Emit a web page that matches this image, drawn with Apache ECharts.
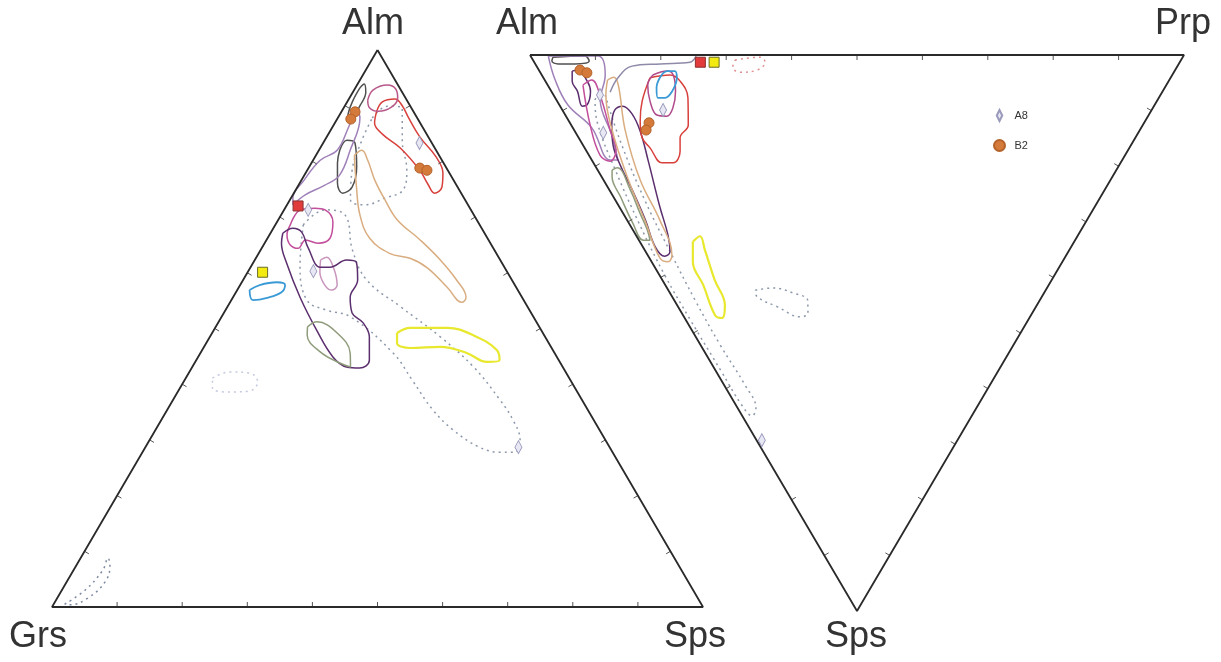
<!DOCTYPE html>
<html><head><meta charset="utf-8">
<script src="https://cdn.jsdelivr.net/npm/echarts@6/dist/echarts.min.js"></script>
<style>html,body{margin:0;padding:0;background:#fff}#c{width:1221px;height:662px}</style>
</head><body><div id="c"></div>
<script>
// ===== Left diagram (Alm–Grs–Sps): points as [Alm %, Sps %]; Grs = 100 - Alm - Sps =====
const L_vertices = { Alm: [100, 0], Grs: [0, 0], Sps: [0, 100] };
const L_red = [[88.9,5.4],[90.7,5.4],[91.2,7.1],[89.9,8.9],[88.0,10.7],[84.4,14.3],[80.8,18.6],[77.9,21.1],[75.4,22.2],[74.3,21.6],[75.9,19.8],[78.4,17.3],[82.4,12.3],[84.9,8.3],[86.9,6.1]];
const L_mauve = [[91.0,3.0],[92.8,2.9],[93.7,4.7],[93.0,6.3],[91.4,7.4],[89.8,7.3],[89.0,5.6],[89.6,4.0]];
const L_greyTop = [[93.2,0.7],[93.9,1.0],[92.4,2.0],[90.1,2.3],[88.0,2.1],[88.1,1.4],[90.6,0.8]];
const L_greyMid = [[82.0,3.2],[83.8,3.4],[83.3,4.9],[79.0,7.3],[75.4,8.4],[74.3,7.5],[76.1,5.8],[79.7,4.0]];
const L_lavender = [[89.6,1.9],[87.8,3.4],[82.0,4.8],[77.5,5.4],[75.7,4.0],[74.0,1.9],[72.2,0.9],[73.4,0.3],[76.6,0.4],[80.2,1.1],[82.0,2.8],[86.0,2.5]];
const L_magenta = [[68.6,2.3],[71.3,2.5],[71.6,4.6],[71.3,6.3],[69.1,8.6],[66.2,9.6],[65.3,8.2],[65.9,6.0],[64.4,5.6],[65.0,4.1],[66.8,2.7]];
const L_pink = [[62.3,10.1],[62.8,10.8],[60.9,12.8],[57.8,14.9],[56.9,14.5],[57.8,13.0],[60.1,11.1]];
const L_purple = [[67.1,1.9],[68.0,3.0],[67.3,4.7],[64.6,7.0],[61.0,10.7],[61.0,12.2],[62.3,14.1],[61.9,15.8],[58.7,17.6],[55.6,18.0],[52.8,19.7],[51.0,22.3],[48.5,24.5],[44.3,26.6],[42.9,25.8],[43.1,23.7],[44.9,20.7],[49.7,15.8],[55.6,10.3],[61.7,5.2],[65.3,2.6]];
const L_green = [[50.3,14.1],[51.2,15.1],[49.2,19.2],[45.6,23.0],[43.1,24.3],[43.8,22.3],[45.8,18.3],[48.8,14.8]];
const L_blue = [[56.9,1.9],[57.8,3.0],[58.3,5.4],[57.8,6.9],[56.5,7.0],[55.5,5.3],[55.1,3.3]];
const L_tan = [[81.1,5.9],[82.0,6.6],[80.2,8.4],[76.6,11.3],[73.1,14.6],[69.5,18.3],[65.9,23.6],[62.3,28.5],[58.7,32.8],[55.6,35.8],[54.7,35.6],[57.4,32.0],[60.9,27.2],[62.6,23.7],[63.5,20.1],[66.2,15.7],[70.4,12.1],[75.7,8.9]];
const L_yellow = [[49.2,28.4],[50.1,30.0],[50.1,35.7],[48.8,40.3],[46.1,45.3],[44.3,46.6],[44.0,44.8],[45.6,40.9],[46.7,36.3],[46.5,31.8],[47.4,29.3]];
const L_dotTop = [[87.8,5.3],[89.9,6.6],[89.6,9.0],[83.8,11.9],[78.4,15.3],[74.9,16.5],[73.4,14.4],[72.2,12.0],[73.1,9.3],[78.4,6.9],[83.8,5.7]];
const L_dotLong = [[68.6,4.3],[71.3,6.3],[70.4,9.8],[64.1,14.1],[58.7,19.0],[53.9,26.6],[48.5,35.4],[43.1,43.2],[37.2,50.2],[33.6,54.0],[30.0,56.9],[27.8,57.2],[27.8,54.9],[28.7,51.3],[31.8,45.7],[35.4,40.8],[40.7,35.0],[45.6,29.6],[52.1,19.8],[53.3,15.5],[55.1,11.6],[61.4,7.4]];
const L_dotPale = [[41.1,4.1],[42.2,6.2],[42.0,9.4],[40.4,11.4],[38.8,11.0],[38.6,8.0],[39.3,5.0]];
const L_dotCorner = [[0.5,1.7],[3.1,3.6],[6.6,4.5],[8.8,4.2],[7.4,5.2],[4.5,5.9],[1.6,4.7],[0.4,2.6]];
const L_A8 = [[83.3,14.8],[71.3,3.7],[60.3,10.0],[28.7,57.3]];
const L_B2 = [[88.9,2.1],[87.6,2.1],[78.8,17.1],[78.4,18.4]];
const L_redSquare = [[72.0,1.8]];
const L_yellowSquare = [[60.1,2.3]];

// ===== Right diagram (Alm–Prp–Sps): points as [Prp %, Sps %]; Alm = 100 - Prp - Sps =====
const R_vertices = { Alm: [0, 0], Prp: [100, 0], Sps: [0, 100] };
const R_greyBox = [[3.3,0.4],[8.3,0.2],[8.5,1.1],[6.1,1.6],[3.5,1.6],[2.8,1.1]];
const R_lavender = [[2.7,0.2],[10.3,0.2],[9.7,3.6],[6.7,8.1],[5.3,14.4],[4.0,18.9],[2.8,18.9],[2.9,13.1],[1.3,9.0],[1.6,4.5]];
const R_purpleSmall = [[5.0,2.9],[6.0,2.7],[6.4,4.7],[6.0,6.5],[4.2,9.0],[3.4,9.2],[4.0,6.5],[4.1,4.7]];
const R_purple = [[6.2,12.6],[8.0,9.9],[9.6,9.2],[10.3,10.6],[10.0,13.7],[8.6,18.9],[6.2,27.3],[4.9,32.4],[3.7,35.4],[2.5,36.2],[1.9,34.5],[2.8,29.7],[3.5,24.3],[3.9,19.8],[4.6,16.2]];
const R_magenta = [[5.4,5.4],[7.2,4.5],[7.1,7.2],[5.5,13.5],[4.6,17.1],[2.7,19.1],[1.7,18.0],[2.9,12.6]];
const R_green = [[2.2,20.7],[3.2,20.3],[3.2,24.3],[2.6,28.4],[2.2,31.5],[1.7,33.3],[0.7,33.3],[0.6,30.2],[1.1,25.5],[1.6,21.9]];
const R_tan = [[9.6,4.5],[10.8,4.0],[10.8,5.4],[7.8,13.5],[5.6,22.5],[5.0,29.7],[3.7,36.0],[2.5,37.2],[1.6,36.5],[2.7,29.7],[3.8,22.5],[5.8,13.5],[8.0,7.2]];
const R_red = [[16.3,4.1],[19.6,3.6],[20.6,4.7],[20.3,7.7],[17.9,12.6],[15.5,14.9],[14.3,17.3],[12.2,19.4],[10.5,19.4],[10.0,16.7],[9.7,14.9],[10.9,11.9],[13.0,8.3]];
const R_magenta2 = [[17.0,3.6],[19.5,2.9],[20.1,3.6],[19.0,6.5],[17.1,9.5],[15.4,11.0],[14.0,10.8],[14.2,8.3],[15.3,5.4]];
const R_blue = [[17.8,4.1],[19.5,2.9],[20.7,2.9],[20.4,4.1],[18.5,6.5],[16.8,7.7],[15.7,7.7],[16.4,5.9]];
const R_greyLine = [[25.3,0.2],[23.8,1.3],[19.1,1.6],[14.6,2.0],[11.4,4.1],[8.9,6.7]];
const R_pinkDot = [[30.9,0.9],[35.0,0.4],[35.3,1.3],[33.4,2.7],[30.6,3.1],[29.9,2.2]];
const R_yellow = [[8.1,33.6],[9.7,32.6],[9.2,35.1],[8.0,40.5],[7.3,45.0],[5.7,47.3],[4.9,46.8],[5.8,41.4],[6.3,37.2]];
const R_dotRight = [[13.3,42.3],[16.3,41.9],[18.8,42.8],[20.4,44.1],[19.3,46.4],[17.8,47.1],[15.2,45.3],[13.0,43.5]];
const R_dotLong = [[7.9,7.2],[6.1,15.3],[4.5,26.1],[3.7,36.0],[3.2,44.1],[3.0,52.2],[3.2,59.4],[2.8,63.5],[1.5,64.9],[0.9,63.0],[0.8,56.7],[0.7,47.7],[0.8,39.6],[1.5,30.6],[2.7,20.7],[4.1,12.6],[5.9,8.1]];
const R_A8 = [[15.4,9.9],[7.1,7.2],[4.2,14.0],[0.8,69.3]];
const R_B2 = [[6.3,2.7],[7.1,3.2],[12.1,12.2],[11.0,13.5]];
const R_redSquare = [[25.4,1.3]];
const R_yellowSquare = [[27.5,1.3]];

const tickFractions = [0.1,0.2,0.3,0.4,0.5,0.6,0.7,0.8,0.9];
const legendNames = ['A8','B2'];

// ternary -> plane conversion (unit triangle inside each grid)
const toL = p => [(p[1] + p[0] / 2) / 100, p[0] / 100];
const toR = p => [(p[0] + p[1] / 2) / 100, 1 - p[1] / 100];
const conv = (g, pts) => pts.map(g === 0 ? toL : toR);
const close = a => a.concat([a[0]]);

const series = [];
function contour(g, pts, color, opt) {
  opt = opt || {};
  series.push({
    type: 'line', xAxisIndex: g, yAxisIndex: g, silent: true,
    data: conv(g, opt.open ? pts : close(pts)),
    smooth: opt.smooth == null ? 0.4 : opt.smooth, symbol: 'none', clip: false,
    lineStyle: { color: color, width: opt.width || 1.5, type: opt.dot ? [2, 4] : 'solid' },
    z: opt.z || 2
  });
}
function frame(g, verts) {
  const v = Object.values(verts);
  series.push({
    type: 'line', xAxisIndex: g, yAxisIndex: g, silent: true,
    data: conv(g, close(v)), symbol: 'none', clip: false,
    lineStyle: { color: '#2a2a2a', width: 1.8 }, z: 5
  });
  const items = [];
  for (let e = 0; e < 3; e++) {
    const a = v[e], b = v[(e + 1) % 3], r = v[(e + 2) % 3];
    tickFractions.forEach(f => {
      const p = [a[0] + (b[0] - a[0]) * f, a[1] + (b[1] - a[1]) * f];
      items.push([].concat(conv(g, [p])[0], conv(g, [a])[0], conv(g, [b])[0], conv(g, [r])[0]));
    });
  }
  series.push({
    type: 'custom', xAxisIndex: g, yAxisIndex: g, silent: true, z: 5,
    encode: { x: 0, y: 1 }, data: items,
    renderItem: function (params, api) {
      const p = api.coord([api.value(0), api.value(1)]);
      const A = api.coord([api.value(2), api.value(3)]);
      const B = api.coord([api.value(4), api.value(5)]);
      const R = api.coord([api.value(6), api.value(7)]);
      const dx = B[0] - A[0], dy = B[1] - A[1], len = Math.hypot(dx, dy);
      let nx = -dy / len, ny = dx / len;
      if ((R[0] - p[0]) * nx + (R[1] - p[1]) * ny < 0) { nx = -nx; ny = -ny; }
      return { type: 'line', shape: { x1: p[0], y1: p[1], x2: p[0] + nx * 5, y2: p[1] + ny * 5 },
        style: { stroke: '#555', lineWidth: 1 } };
    }
  });
}
function markers(g, name, pts, symbol, size, fill, border, z) {
  series.push({
    name: name, type: 'scatter', xAxisIndex: g, yAxisIndex: g, silent: true,
    data: conv(g, pts), symbol: symbol, symbolSize: size, clip: false,
    itemStyle: { color: fill, borderColor: border, borderWidth: 1, opacity: 1 }, z: z || 8
  });
}

const DIAMOND = 'path://M4,0 L8,8 L4,16 L0,8 Z';

// Left diagram
frame(0, L_vertices);
contour(0, L_dotTop, '#8d99aa', { dot: true });
contour(0, L_dotLong, '#8d99aa', { dot: true });
contour(0, L_dotPale, '#c4c9dd', { dot: true });
contour(0, L_dotCorner, '#7e8aa2', { dot: true });
contour(0, L_red, '#d8403c');
contour(0, L_mauve, '#b8588a');
contour(0, L_greyTop, '#505050');
contour(0, L_greyMid, '#505050');
contour(0, L_lavender, '#9f80b8');
contour(0, L_magenta, '#c24e9c');
contour(0, L_pink, '#c995bd');
contour(0, L_purple, '#5b2e6e');
contour(0, L_green, '#8f9c7c');
contour(0, L_blue, '#3a9ad6', { width: 1.8 });
contour(0, L_tan, '#d9ad80');
contour(0, L_yellow, '#e8e82e', { width: 2.2 });
markers(0, 'A8', L_A8, DIAMOND, [7, 13], '#e8e8f4', '#9a9abc');
markers(0, 'B2', L_B2, 'circle', 10, '#d47a3a', '#b4622a');
markers(0, 'Grt-red', L_redSquare, 'rect', 10, '#e23b3b', '#8a3030');
markers(0, 'Grt-yellow', L_yellowSquare, 'rect', 10, '#f2ea10', '#6a6a2a');

// Right diagram
frame(1, R_vertices);
contour(1, R_dotLong, '#8d99aa', { dot: true });
contour(1, R_dotRight, '#8d99aa', { dot: true });
contour(1, R_pinkDot, '#e09090', { dot: true });
contour(1, R_greyBox, '#505050');
contour(1, R_lavender, '#9f80b8');
contour(1, R_purpleSmall, '#5b2e6e');
contour(1, R_purple, '#5b2e6e');
contour(1, R_magenta, '#c24e9c');
contour(1, R_green, '#8f9c7c');
contour(1, R_tan, '#d9ad80');
contour(1, R_red, '#d8403c');
contour(1, R_magenta2, '#b04a8a');
contour(1, R_blue, '#3a9ad6', { width: 1.8 });
contour(1, R_greyLine, '#8e8aa8', { open: true });
contour(1, R_yellow, '#e8e82e', { width: 2.2 });
markers(1, 'A8', R_A8, DIAMOND, [7, 13], '#e8e8f4', '#9a9abc');
markers(1, 'B2', R_B2, 'circle', 10, '#d47a3a', '#b4622a');
markers(1, 'Grt-red', R_redSquare, 'rect', 10, '#e23b3b', '#8a3030');
markers(1, 'Grt-yellow', R_yellowSquare, 'rect', 10, '#f2ea10', '#6a6a2a');

const axis = { type: 'value', min: 0, max: 1, show: false };
const labelStyle = { fontSize: 36, fill: '#333', fontFamily: 'Liberation Sans, Arial, sans-serif', textAlign: 'center', textVerticalAlign: 'middle' };
const label = (text, x, y) => ({ type: 'text', x: x, y: y, style: Object.assign({ text: text }, labelStyle) });

const chart = echarts.init(document.getElementById('c'), null, { renderer: 'canvas' });
chart.setOption({
  animation: false,
  backgroundColor: '#ffffff',
  grid: [
    { left: 52, top: 50, width: 651, height: 557 },
    { left: 530, top: 55, width: 654, height: 556 }
  ],
  xAxis: [Object.assign({ gridIndex: 0 }, axis), Object.assign({ gridIndex: 1 }, axis)],
  yAxis: [Object.assign({ gridIndex: 0 }, axis), Object.assign({ gridIndex: 1 }, axis)],
  legend: {
    data: legendNames, orient: 'vertical', left: 988, top: 104,
    itemWidth: 20, itemHeight: 11, itemGap: 17,
    textStyle: { fontSize: 11, color: '#333', fontFamily: 'Liberation Sans, Arial, sans-serif' },
    selectedMode: false
  },
  graphic: [
    label('Alm', 373, 24), label('Grs', 38, 637), label('Sps', 695, 637),
    label('Alm', 527, 24), label('Prp', 1183, 24), label('Sps', 856, 637)
  ],
  series: series
});
</script></body></html>
